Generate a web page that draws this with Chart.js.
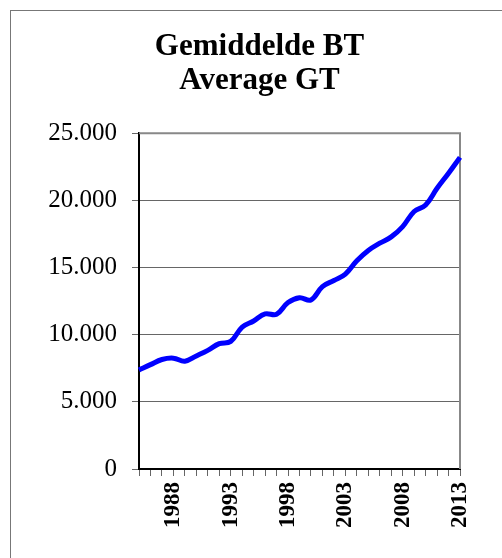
<!DOCTYPE html>
<html>
<head>
<meta charset="utf-8">
<script src="https://cdn.jsdelivr.net/npm/chart.js@4"></script>
<style>
    html, body { margin: 0; padding: 0; background: #fff; overflow: hidden; }
    #frame {
        position: absolute; left: 10px; top: 10px;
        width: 497px; height: 547px;
        border-left: 1px solid #777; border-top: 1px solid #777;
    }
</style>
</head>
<body>
<div id="frame"><canvas id="gtChart"></canvas></div>
<script>
const years = [1985, 1986, 1987, 1988, 1989, 1990, 1991, 1992, 1993, 1994,
    1995, 1996, 1997, 1998, 1999, 2000, 2001, 2002, 2003, 2004,
    2005, 2006, 2007, 2008, 2009, 2010, 2011, 2012, 2013];
const averageGT = [7370, 7770, 8150, 8250, 8030, 8420, 8830, 9330, 9500, 10570,
    11020, 11550, 11520, 12390, 12750, 12590, 13580, 14030, 14510, 15500,
    16270, 16810, 17280, 18050, 19170, 19660, 20900, 22020, 23200];
const shownYears = [1988, 1993, 1998, 2003, 2008, 2013];
const titleLines = ['Gemiddelde BT', 'Average GT'];

const serif = "'Liberation Serif', 'Times New Roman', serif";

// grauer Rahmen oben und rechts um die Plotfläche
const plotBorder = {
    id: 'plotBorder',
    beforeDatasetsDraw(chart) {
        const a = chart.chartArea;
        const c = chart.ctx;
        c.save();
        c.strokeStyle = '#888';
        c.lineWidth = 2;
        c.beginPath();
        c.moveTo(a.left, a.top);
        c.lineTo(a.right, a.top);
        c.lineTo(a.right, a.bottom);
        c.stroke();
        c.restore();
    }
};

function dotted(v) {
    return String(v).replace(/\B(?=(\d{3})+(?!\d))/g, '.');
}

new Chart(document.getElementById('gtChart'), {
    type: 'line',
    data: {
        labels: years,
        datasets: [{
            data: averageGT,
            borderColor: '#0000ff',
            borderWidth: 5,
            pointRadius: 0,
            tension: 0.4,
            fill: false
        }]
    },
    options: {
        responsive: true,
        maintainAspectRatio: false,
        animation: false,
        layout: { padding: 0 },
        plugins: {
            legend: { display: false },
            tooltip: { enabled: false },
            title: {
                display: true,
                text: titleLines,
                color: '#000',
                font: { family: serif, size: 31, weight: 'bold', lineHeight: 1.1 },
                padding: { top: 19, bottom: 35 }
            }
        },
        scales: {
            x: {
                type: 'category',
                offset: false,
                afterFit: s => { s.height = 89; },
                grid: {
                    drawOnChartArea: false,
                    drawTicks: true,
                    tickLength: 7,
                    color: '#666'
                },
                border: { color: '#000', width: 2 },
                ticks: {
                    autoSkip: false,
                    minRotation: 90,
                    maxRotation: 90,
                    padding: 6,
                    color: '#000',
                    font: { family: serif, size: 23, weight: 'bold' },
                    callback: function (val, i) {
                        const y = years[i];
                        return shownYears.includes(y) ? String(y) : '';
                    }
                }
            },
            y: {
                min: 0,
                max: 25000,
                afterFit: s => { s.width = 128; },
                grid: {
                    color: '#666',
                    tickLength: 7
                },
                border: { color: '#000', width: 2 },
                ticks: {
                    stepSize: 5000,
                    padding: 15,
                    color: '#000',
                    font: { family: serif, size: 25 },
                    callback: v => dotted(v)
                }
            },
            // leere Achse rechts, nur als Abstand
            spacer: {
                position: 'right',
                afterFit: s => { s.width = 48; },
                grid: { display: false, drawOnChartArea: false },
                border: { display: false },
                ticks: { display: false }
            }
        }
    },
    plugins: [plotBorder]
});
</script>
</body>
</html>
